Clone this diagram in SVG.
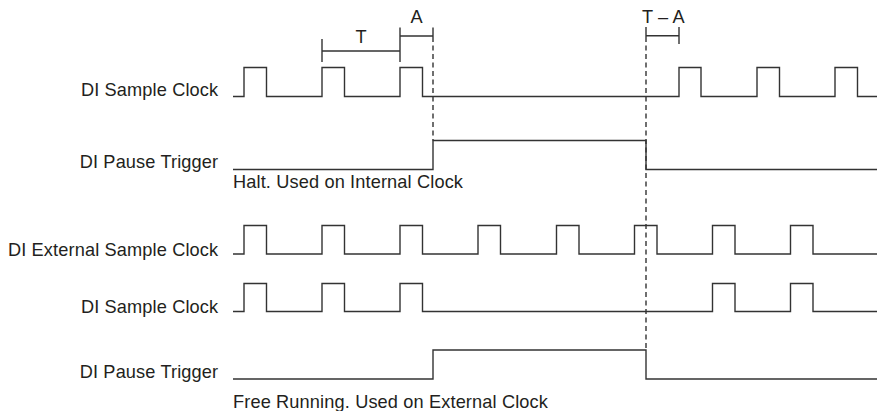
<svg xmlns="http://www.w3.org/2000/svg" width="878" height="411" viewBox="0 0 878 411">
<style>
.sig{fill:none;stroke:#333;stroke-width:1.4;stroke-linejoin:miter}
.dim{fill:none;stroke:#333;stroke-width:1.4}
.dash{fill:none;stroke:#333;stroke-width:1.4;stroke-dasharray:5 3.5}
text{font-family:"Liberation Sans",Arial,sans-serif;font-size:18.2px;fill:#231f20;letter-spacing:0.13px}
.lbl{text-anchor:end}
.mid{text-anchor:middle}
</style>
<rect width="878" height="411" fill="#fff"/>
<g id="sample-clock-1">
<text class="lbl" x="218.3" y="96">DI Sample Clock</text>
<path class="sig" d="M233,96.5 H244 V67.5 H266.5 V96.5 H322 V67.5 H344.5 V96.5 H400 V67.5 H422.5 V96.5 H679 V67.5 H701 V96.5 H757 V67.5 H779.5 V96.5 H835 V67.5 H857.5 V96.5 H877"/>
</g>
<g id="pause-trigger-1">
<text class="lbl" x="218.3" y="167.7">DI Pause Trigger</text>
<path class="sig" d="M233,169.5 H433 V140.5 H646 V169.5 H877"/>
<text x="233" y="188.3">Halt. Used on Internal Clock</text>
</g>
<g id="ext-sample-clock">
<text class="lbl" x="218.3" y="256">DI External Sample Clock</text>
<path class="sig" d="M233,254 H244 V225.5 H266.5 V254 H322 V225.5 H344.5 V254 H400 V225.5 H422.5 V254 H478 V225.5 H500.5 V254 H556.5 V225.5 H579 V254 H634.5 V225.5 H657 V254 H712.5 V225.5 H735 V254 H790.5 V225.5 H813 V254 H877"/>
</g>
<g id="sample-clock-2">
<text class="lbl" x="218.3" y="313.3">DI Sample Clock</text>
<path class="sig" d="M233,311.5 H244 V283.5 H266.5 V311.5 H322 V283.5 H344.5 V311.5 H400 V283.5 H422.5 V311.5 H712.5 V283.5 H735 V311.5 H790.5 V283.5 H813 V311.5 H877"/>
</g>
<g id="pause-trigger-2">
<text class="lbl" x="218.3" y="378.3">DI Pause Trigger</text>
<path class="sig" d="M233,379 H433 V350 H646 V379 H877"/>
<text x="233" y="408.3">Free Running. Used on External Clock</text>
</g>
<g id="connectors">
<path class="dim" d="M322,39 V62 M400,27.5 V62 M322,51 H400 M400,36 H433 M433,27.5 V37"/>
<path class="dim" d="M646,27 V37 M679,27 V44 M646,35.7 H679"/>
<path class="dash" d="M433,37 V140.5"/>
<path class="dash" d="M646,37 V350"/>
<text class="mid" x="361" y="42.6">T</text>
<text class="mid" x="416.7" y="22.7">A</text>
<text class="mid" x="663.3" y="22.7">T – A</text>
</g>
</svg>
